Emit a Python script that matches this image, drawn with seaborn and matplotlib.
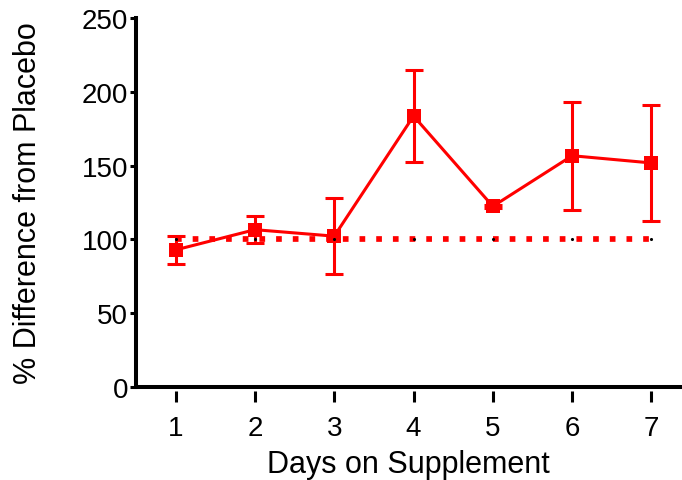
import pandas as pd
import seaborn as sns
import numpy as np
import matplotlib.pyplot as plt

days = [1, 2, 3, 4, 5, 6, 7]
pct_diff = [92.9, 106.6, 102.2, 183.6, 122.4, 156.7, 151.8]
sem = [9.6, 9.0, 25.6, 31.4, 1.0, 36.6, 39.5]
placebo = [100, 100, 100, 100, 100, 100, 100]

df = pd.DataFrame({'Day': days, 'Pct': pct_diff, 'SEM': sem, 'Placebo': placebo})

sns.set_style('ticks')
plt.rcParams['font.family'] = ['Liberation Sans', 'DejaVu Sans']
plt.rcParams['text.color'] = 'black'
plt.rcParams['axes.labelcolor'] = 'black'
plt.rcParams['xtick.color'] = 'black'
plt.rcParams['ytick.color'] = 'black'

fig = plt.figure(figsize=(6.82, 4.81), dpi=100)
ax = fig.add_axes([0.1994, 0.1933, 0.80, 0.7672])

red = '#ff0000'

# placebo reference (dotted)
sns.lineplot(data=df, x='Day', y='Placebo', ax=ax, color=red, lw=4.1,
             linestyle=(0, (1, 1.93)), zorder=2)

# supplement group
ax.errorbar(df['Day'], df['Pct'], yerr=df['SEM'], fmt='none', ecolor=red,
            elinewidth=2.2, capsize=6.5, capthick=2.2, zorder=3)
sns.lineplot(data=df, x='Day', y='Pct', ax=ax, color=red, lw=2.2,
             marker='s', markersize=10, markeredgewidth=0, zorder=4)

# tiny placebo markers
ax.scatter(df['Day'], df['Placebo'], s=5, color='black', zorder=5, linewidths=0)

ax.set_xlim(0.5, 7.38)
ax.set_ylim(0, 250)
ax.set_xticks(days)
ax.set_yticks([0, 50, 100, 150, 200, 250])

ax.spines['top'].set_visible(False)
ax.spines['right'].set_visible(False)
ax.spines['left'].set_linewidth(2.9)
ax.spines['left'].set_color('black')
ax.spines['bottom'].set_position(('outward', 3))
ax.spines['bottom'].set_visible(False)
ax.axhline(0, color='black', lw=2.9, clip_on=False, zorder=6)

ax.tick_params(axis='y', length=4.5, width=2.2, pad=1, labelsize=20)
ax.tick_params(axis='x', length=8, width=2.2, pad=9, labelsize=20)

ax.set_xlabel('Days on Supplement', fontsize=22, labelpad=6)
ax.set_ylabel('% Difference from Placebo', fontsize=22, labelpad=28)

fig.savefig('out.png', dpi=100)
